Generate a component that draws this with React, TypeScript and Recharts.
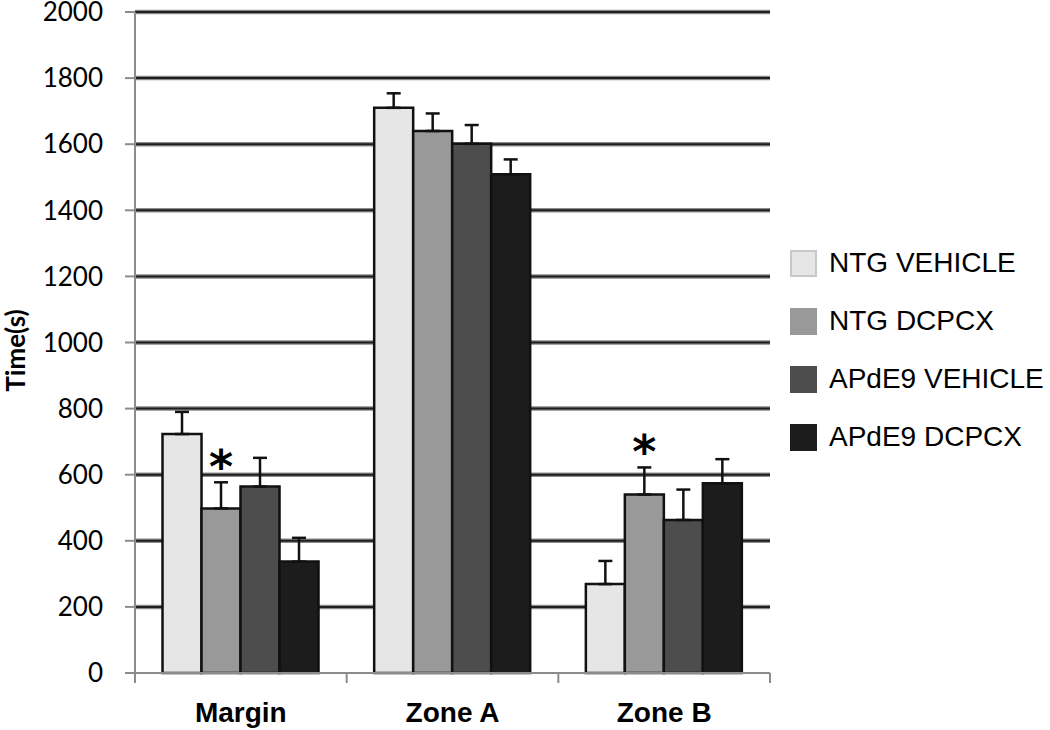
import React from 'react';
import { BarChart, Bar, XAxis, YAxis, CartesianGrid, ErrorBar, LabelList, Legend, Label } from 'recharts';

const categories = ['Margin', 'Zone A', 'Zone B'];
const seriesNames = ['NTG VEHICLE', 'NTG DCPCX', 'APdE9 VEHICLE', 'APdE9 DCPCX'];
const ntgVehicle = [723, 1710, 269];
const ntgVehicleErr = [67, 44, 70];
const ntgDcpcx = [498, 1640, 540];
const ntgDcpcxErr = [79, 53, 82];
const apde9Vehicle = [564, 1601, 463];
const apde9VehicleErr = [87, 57, 92];
const apde9Dcpcx = [337, 1509, 574];
const apde9DcpcxErr = [72, 45, 73];
const ntgDcpcxSignificant = [true, false, true];
const yTicks = [0, 200, 400, 600, 800, 1000, 1200, 1400, 1600, 1800, 2000];
const gridValues = yTicks.filter((v) => v > 0);

const colors = ['#e6e6e6', '#999999', '#4d4d4d', '#1c1c1c'];
const legendBorders = ['#c8c8c8', '#999999', '#4d4d4d', '#1c1c1c'];

const data = categories.map((c, i) => ({
  name: c,
  s0: ntgVehicle[i],
  e0: [0, ntgVehicleErr[i]],
  s1: ntgDcpcx[i],
  e1: [0, ntgDcpcxErr[i]],
  s2: apde9Vehicle[i],
  e2: [0, apde9VehicleErr[i]],
  s3: apde9Dcpcx[i],
  e3: [0, apde9DcpcxErr[i]],
}));

const XTick = (props: any) => {
  const { x, y, payload, index, width } = props;
  const half = payload && payload.offset ? payload.offset : width / categories.length / 2;
  const left = x - half;
  const right = x + half;
  return (
    <g>
      <line x1={left} y1={y} x2={left} y2={y + 10} stroke="#8c8c8c" strokeWidth={2} />
      {index === categories.length - 1 && (
        <line x1={right} y1={y} x2={right} y2={y + 10} stroke="#8c8c8c" strokeWidth={2} />
      )}
      <text
        x={x}
        y={y + 49}
        textAnchor="middle"
        fontFamily="'Liberation Sans', Arial, sans-serif"
        fontWeight="bold"
        fontSize={28}
        fill="#000"
      >
        {payload.value}
      </text>
    </g>
  );
};

const Asterisk = (props: any) => {
  const { x, y, width, height, value, index } = props;
  if (!ntgDcpcxSignificant[index]) return null;
  const pxPerUnit = height / value;
  const errTop = y - ntgDcpcxErr[index] * pxPerUnit;
  const cy = errTop - 25;
  return (
    <text
      x={x + width / 2}
      y={cy + 26}
      textAnchor="middle"
      fontFamily="'DejaVu Sans', sans-serif"
      fontWeight="bold"
      fontSize={46}
      fill="#000"
    >
      *
    </text>
  );
};

const LegendContent = (props: any) => {
  const { payload } = props;
  const items = seriesNames.map((n) => {
    const p = (payload || []).find((q: any) => q.value === n);
    return { name: n, color: p ? p.color : undefined };
  });
  return (
    <div style={{ display: 'flex', flexDirection: 'column' }}>
      {items.map((p, i) => (
        <div key={i} style={{ display: 'flex', alignItems: 'center', height: 58 }}>
          <div
            style={{
              width: 27,
              height: 27,
              boxSizing: 'border-box',
              background: colors[i],
              border: `2px solid ${legendBorders[i]}`,
              marginRight: 12,
            }}
          />
          <span
            style={{
              fontFamily: "'Liberation Sans', Arial, sans-serif",
              fontSize: 28,
              color: '#000',
              whiteSpace: 'nowrap',
            }}
          >
            {p.name}
          </span>
        </div>
      ))}
    </div>
  );
};

const YLabel = (props: any) => {
  const { viewBox } = props;
  const cx = viewBox.x - 45;
  const cy = viewBox.y + viewBox.height / 2 + 8;
  return (
    <text
      x={cx}
      y={cy}
      transform={`rotate(-90 ${cx} ${cy})`}
      textAnchor="middle"
      dominantBaseline="central"
      fontFamily="Lato, 'Open Sans', sans-serif"
      fontWeight="bold"
      fontSize={26}
      fill="#000"
    >
      Time(s)
    </text>
  );
};

export default function App() {
  const series = [
    { key: 's0', err: 'e0' },
    { key: 's1', err: 'e1' },
    { key: 's2', err: 'e2' },
    { key: 's3', err: 'e3' },
  ];
  return (
    <div style={{ position: 'absolute', left: 0, top: 0, width: 1050, height: 730, background: '#fff' }}>
      <BarChart
        width={1050}
        height={730}
        data={data}
        margin={{ top: 12, right: 280, bottom: 7, left: 60 }}
        barCategoryGap="13%"
        barGap={0}
      >
        <CartesianGrid vertical={false} horizontalValues={gridValues} stroke="#8a8a8a" strokeWidth={4.5} />
        <CartesianGrid vertical={false} horizontalValues={gridValues} stroke="#1e1e1e" strokeWidth={2} />
        <XAxis
          dataKey="name"
          height={50}
          tickLine={false}
          tickSize={0}
          tickMargin={0}
          axisLine={{ stroke: '#8c8c8c', strokeWidth: 2 }}
          tick={<XTick />}
          interval={0}
        />
        <YAxis
          width={75}
          domain={[0, 2000]}
          ticks={yTicks}
          interval={0}
          tickSize={10}
          tickMargin={22}
          tickLine={{ stroke: '#8c8c8c', strokeWidth: 2 }}
          axisLine={{ stroke: '#8c8c8c', strokeWidth: 2 }}
          tick={{ fontFamily: "Lato, 'Open Sans', sans-serif", fontSize: 26, fill: '#000' }}
        >
          <Label content={<YLabel />} />
        </YAxis>
        <Legend
          layout="vertical"
          align="center"
          verticalAlign="middle"
          itemSorter={null as any}
          wrapperStyle={{ left: 790, top: 234, width: 260 }}
          content={<LegendContent />}
        />
        {series.map((s, i) => (
          <Bar
            key={s.key}
            dataKey={s.key}
            name={seriesNames[i]}
            fill={colors[i]}
            stroke="#111"
            strokeWidth={2.5}
            isAnimationActive={false}
          >
            <ErrorBar dataKey={s.err} direction="y" width={7} stroke="#111" strokeWidth={2.5} />
            {i === 1 && <LabelList dataKey={s.key} content={<Asterisk />} />}
          </Bar>
        ))}
      </BarChart>
    </div>
  );
}
